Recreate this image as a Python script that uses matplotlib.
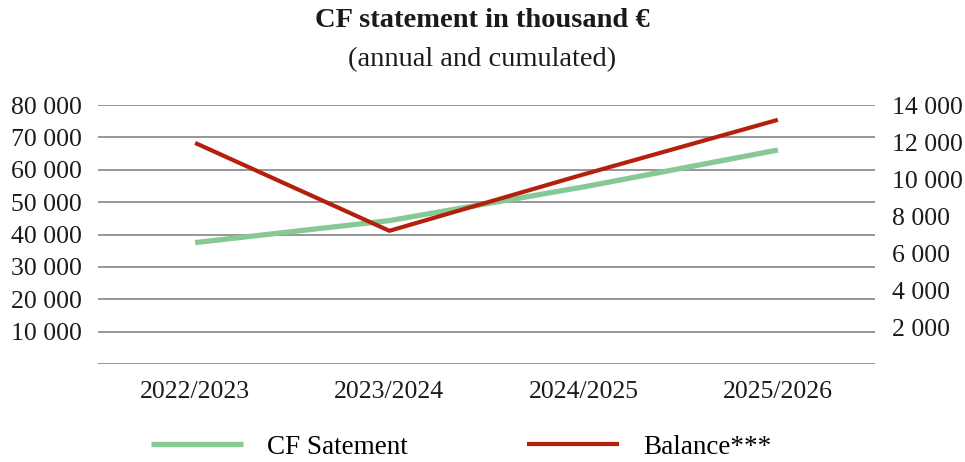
import matplotlib
matplotlib.use("Agg")
import matplotlib.pyplot as plt
from matplotlib.ticker import FuncFormatter

plt.rcParams["font.family"] = ["Liberation Serif", "DejaVu Serif"]

YEARS = ["2022/2023", "2023/2024", "2024/2025", "2025/2026"]
CF_STATEMENT = [37500, 44300, 54700, 66100]   # left axis
BALANCE = [11950, 7200, 10250, 13200]         # right axis

LEFT_TICKS = [10000, 20000, 30000, 40000, 50000, 60000, 70000, 80000]
RIGHT_TICKS = [2000, 4000, 6000, 8000, 10000, 12000, 14000]

GREEN = "#86c995"
RED = "#b3200c"


def fmt(v, _pos=None):
    return f"{int(v):,}".replace(",", " ")


fig = plt.figure(figsize=(9.65, 4.62), dpi=100)
ax = fig.add_axes([0.1016, 0.2121, 0.8051, 0.5606])
ax2 = ax.twinx()

x = list(range(len(YEARS)))
l1, = ax.plot(x, CF_STATEMENT, color=GREEN, linewidth=3.8, solid_capstyle="butt")
l2, = ax2.plot(x, BALANCE, color=RED, linewidth=3.0, solid_capstyle="butt")

ax.set_xlim(-0.5, 3.5)
ax.set_ylim(0, 80000)
ax2.set_ylim(0, 14000)

for v in range(0, 80001, 10000):
    ax.axhline(v, color="#858585", linewidth=1.2, zorder=0)

ax.set_yticks(LEFT_TICKS)
ax.yaxis.set_major_formatter(FuncFormatter(fmt))
ax2.set_yticks(RIGHT_TICKS)
ax2.yaxis.set_major_formatter(FuncFormatter(fmt))
ax.set_xticks(x)
ax.set_xticklabels(YEARS)

for a in (ax, ax2):
    for s in a.spines.values():
        s.set_visible(False)
    a.tick_params(length=0, labelsize=18.5, colors="#1a1a1a")
ax.tick_params(axis="y", pad=12)
ax2.tick_params(axis="y", pad=12)
ax.tick_params(axis="x", pad=12)

fig.text(0.5, 0.955, "CF statement in thousand €", ha="center", va="center",
         fontsize=20.5, fontweight="bold", color="#1a1a1a")
fig.text(0.5, 0.872, "(annual and cumulated)", ha="center", va="center",
         fontsize=20.5, color="#1a1a1a")

fig.legend([l1, l2], ["CF Satement", "Balance***"], loc="center",
           bbox_to_anchor=(0.478, 0.032), ncol=2, frameon=False, fontsize=19.5,
           handlelength=3.4, handletextpad=0.9, columnspacing=4.4,
           borderpad=0.2)

fig.savefig("out.png", dpi=100)
